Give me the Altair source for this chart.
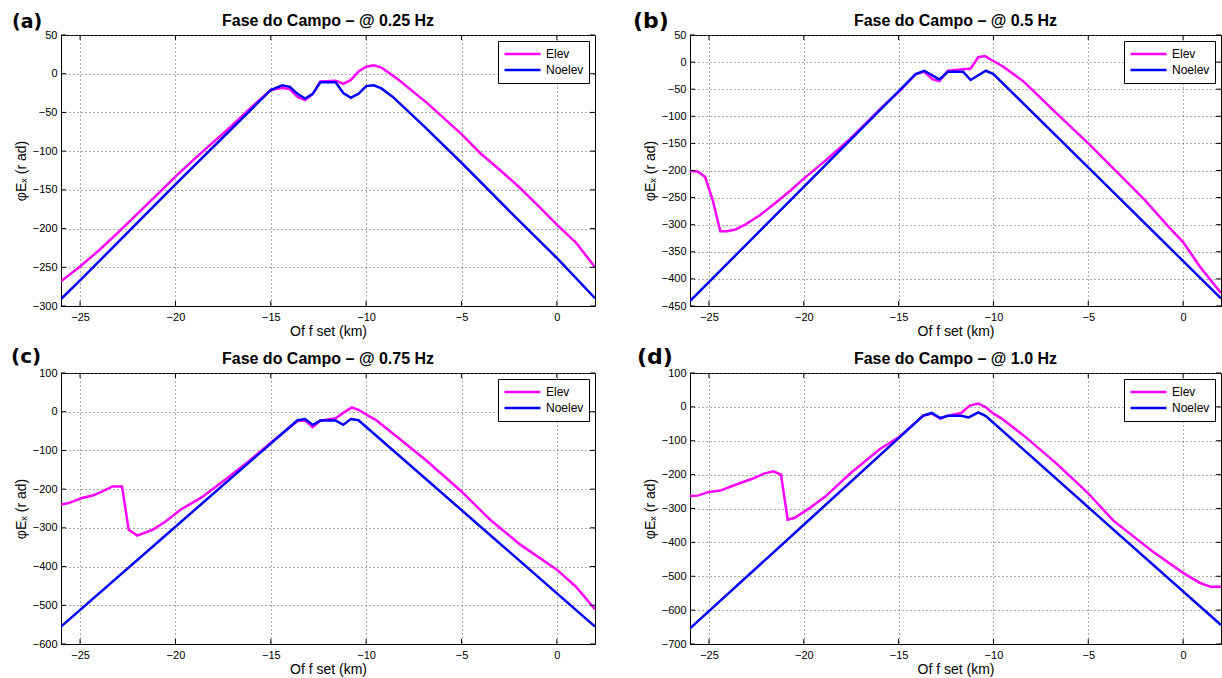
import altair as alt
import pandas as pd

# ---------------- data ----------------
series_names = ["Elev", "Noelev"]
series_colors = ["#ff00ff", "#0000ff"]
x_ticks = [-25, -20, -15, -10, -5, 0]

# (a) 0.25 Hz
a_noelev_x = [-26, -25, -20, -15, -14.4, -14.0, -13.6, -13.2, -12.8, -12.4, -11.6, -11.2, -10.8, -10.4,
              -10.0, -9.6, -9.2, -8.6, -7, -5, -2.5, 0, 2]
a_noelev_y = [-291, -267, -143, -21, -15, -17, -26, -32, -26, -11, -11, -25, -31, -26,
              -16, -15, -19, -30, -67, -115, -177, -238, -290]
a_elev_x = [-26, -25, -24, -23, -22, -21, -20, -19, -18, -17, -16, -15, -14.4, -14.0, -13.6, -13.2, -12.8,
            -12.4, -11.6, -11.2, -10.8, -10.4, -10.0, -9.6, -9.2, -8.4, -6.8, -5, -4, -3, -2, -1, 0, 1, 2]
a_elev_y = [-268, -249, -228, -205, -181, -157, -133, -110, -88, -66, -43, -21, -18, -20, -30, -34, -26,
            -10, -9, -13, -8, 3, 9, 11, 8, -6, -38, -78, -103, -124, -146, -170, -195, -218, -250]

# (b) 0.5 Hz
b_noelev_x = [-26, -20, -14.1, -13.65, -12.85, -12.4, -11.6, -11.2, -10.4, -10.0, -4, 2]
b_noelev_y = [-441, -230, -22, -16, -32, -18, -18, -33, -16, -22, -229, -436]
b_elev_x = [-26, -25.6, -25.2, -24.8, -24.4, -24.05, -23.6, -23.1, -22.3, -21.5, -20.7, -20, -18.8, -17.6,
            -15.9, -15, -14.1, -13.65, -13.2, -12.85, -12.4, -11.2, -10.8, -10.45, -10, -9.5, -8.4, -6.75,
            -5, -3.6, -2, -0.76, 0, 0.9, 2]
b_elev_y = [-201, -202, -212, -255, -312, -312, -309, -300, -282, -260, -237, -215, -180, -143,
            -84, -55, -22, -18, -32, -35, -16, -12, 9, 11, 2, -8, -36, -92,
            -150, -199, -255, -304, -332, -378, -426]

# (c) 0.75 Hz
c_noelev_x = [-26, -20, -13.6, -13.2, -12.8, -12.4, -11.6, -11.2, -10.8, -10.4, -4, 2]
c_noelev_y = [-555, -297, -22, -19, -34, -23, -23, -34, -19, -22, -297, -555]
c_elev_x = [-26, -25.6, -24.9, -24.3, -23.8, -23.3, -22.8, -22.45, -22, -21.2, -20.5, -19.7, -18.65, -17.4,
            -16.2, -15, -13.6, -13.2, -12.8, -12.4, -11.6, -11.2, -10.75, -10.4, -9.9, -9.5, -8.4, -6.8,
            -5, -3.5, -1.9, 0, 1, 2]
c_elev_y = [-240, -236, -223, -216, -205, -193, -193, -305, -320, -305, -283, -252, -222, -176,
            -130, -80, -24, -23, -40, -23, -17, -3, 11, 5, -10, -21, -64, -128,
            -206, -279, -344, -408, -452, -510]

# (d) 1.0 Hz
d_noelev_x = [-26, -20, -13.7, -13.25, -12.8, -12.4, -11.7, -11.3, -10.8, -10.4, -4, 2]
d_noelev_y = [-654, -348, -26, -18, -33, -26, -26, -31, -16, -27, -346, -644]
d_elev_x = [-26, -25.6, -25, -24.4, -23.6, -22.75, -22.1, -21.6, -21.2, -20.85, -20.5, -19.7, -18.85, -17.6,
            -16, -15, -13.7, -13.25, -12.8, -12.4, -11.7, -11.25, -10.8, -10.4, -10, -9.6, -8.35, -6.7,
            -5, -4.45, -3.65, -2.6, -1.6, 0, 0.9, 1.5, 1.8, 2]
d_elev_y = [-263, -262, -251, -247, -230, -213, -197, -190, -200, -333, -328, -299, -264, -199,
            -125, -90, -26, -20, -35, -26, -18, 4, 10, -1, -20, -33, -87, -166,
            -255, -289, -337, -383, -427, -490, -520, -532, -530, -532]

titles = ["Fase do Campo – @ 0.25 Hz", "Fase do Campo – @ 0.5 Hz",
          "Fase do Campo – @ 0.75 Hz", "Fase do Campo – @ 1.0 Hz"]
panel_labels = ["(a)", "(b)", "(c)", "(d)"]
y_domains = [[-300, 50], [-450, 50], [-600, 100], [-700, 100]]
y_ticks = [list(range(-300, 51, 50)), list(range(-450, 51, 50)),
           list(range(-600, 101, 100)), list(range(-700, 101, 100))]

FONT = "Liberation Sans"
LEFT_W, RIGHT_W, H = 534, 531, 271


def panel(ex, ey, nx, ny, title, label, ydom, yt, width, lab_x, lab_y, lab_size):
    df = pd.concat([
        pd.DataFrame({"x": ex, "y": ey, "series": series_names[0]}),
        pd.DataFrame({"x": nx, "y": ny, "series": series_names[1]}),
    ])
    xs = alt.Scale(domain=[-26, 2], nice=False, zero=False)
    ys = alt.Scale(domain=ydom, nice=False, zero=False)
    xax = alt.Axis(values=x_ticks, title="Of f set (km)", labelPadding=5, titlePadding=2, labelOverlap=False,
                   tickCount=len(x_ticks))
    yax = alt.Axis(values=yt, title="φEₓ  (r ad)", labelPadding=4, titlePadding=4, labelOverlap=False,
                   tickCount=len(yt))
    X = alt.X("x:Q", scale=xs, axis=xax)
    Y = alt.Y("y:Q", scale=ys, axis=yax)
    lines = alt.Chart(df).mark_line(strokeWidth=2.5, clip=True).encode(
        x=X, y=Y,
        color=alt.Color("series:N",
                        scale=alt.Scale(domain=series_names, range=series_colors),
                        legend=alt.Legend(title=None, orient="top-right", offset=6,
                                          strokeColor="black", fillColor="white", padding=5,
                                          labelFont=FONT, labelFontSize=12, labelColor="black",
                                          symbolType="stroke", symbolSize=1296, symbolStrokeWidth=2.5,
                                          labelOffset=4, clipHeight=16, rowPadding=0, cornerRadius=0)),
    )
    xt = pd.DataFrame({"x": x_ticks})
    ytd = pd.DataFrame({"y": yt})
    top_t = alt.Chart(xt).mark_rule(color="black").encode(x=X, y=alt.value(0), y2=alt.value(5))
    bot_t = alt.Chart(xt).mark_rule(color="black").encode(x=X, y=alt.value(H - 5), y2=alt.value(H))
    lef_t = alt.Chart(ytd).mark_rule(color="black").encode(y=Y, x=alt.value(0), x2=alt.value(5))
    rig_t = alt.Chart(ytd).mark_rule(color="black").encode(y=Y, x=alt.value(width - 5), x2=alt.value(width))
    lab = alt.Chart(pd.DataFrame({"t": [label]})).mark_text(
        align="left", baseline="alphabetic", fontSize=lab_size, fontWeight="bold",
        font="DejaVu Sans", color="black").encode(text="t:N", x=alt.value(lab_x), y=alt.value(lab_y))
    ttl = alt.Chart(pd.DataFrame({"t": [title]})).mark_text(
        align="center", baseline="alphabetic", fontSize=16, fontWeight="bold",
        font=FONT, color="black").encode(text="t:N", x=alt.value(width / 2), y=alt.value(-9))
    return alt.layer(lines, top_t, bot_t, lef_t, rig_t, lab, ttl).properties(
        width=width, height=H,
    ).resolve_scale(color="independent").resolve_legend(color="independent")


pa = panel(a_elev_x, a_elev_y, a_noelev_x, a_noelev_y, titles[0], panel_labels[0], y_domains[0], y_ticks[0],
           LEFT_W, -49, -7, 19)
pb = panel(b_elev_x, b_elev_y, b_noelev_x, b_noelev_y, titles[1], panel_labels[1], y_domains[1], y_ticks[1],
           RIGHT_W, -57, -7, 22)
pc = panel(c_elev_x, c_elev_y, c_noelev_x, c_noelev_y, titles[2], panel_labels[2], y_domains[2], y_ticks[2],
           LEFT_W, -50, -10, 20)
pd_ = panel(d_elev_x, d_elev_y, d_noelev_x, d_noelev_y, titles[3], panel_labels[3], y_domains[3], y_ticks[3],
            RIGHT_W, -53, -9, 22)

chart = alt.concat(pa, pb, pc, pd_, columns=2, spacing={"row": 67, "column": 95}, bounds="flush").resolve_scale(
    color="independent", x="independent", y="independent").resolve_legend(color="independent").properties(
    padding={"left": 10, "top": 9, "right": 0, "bottom": 0}, background="white"
).configure_view(stroke="black", strokeWidth=1).configure_axis(
    domainColor="black", domainWidth=1, ticks=False, grid=True, gridColor="#555", gridDash=[1, 3],
    gridWidth=1, labelFont=FONT, labelFontSize=11, labelColor="black", titleFont=FONT, titleFontSize=14,
    titleFontWeight="normal", titleColor="black"
)

chart.save("out.html", embed_options={"renderer": "svg", "actions": False})
